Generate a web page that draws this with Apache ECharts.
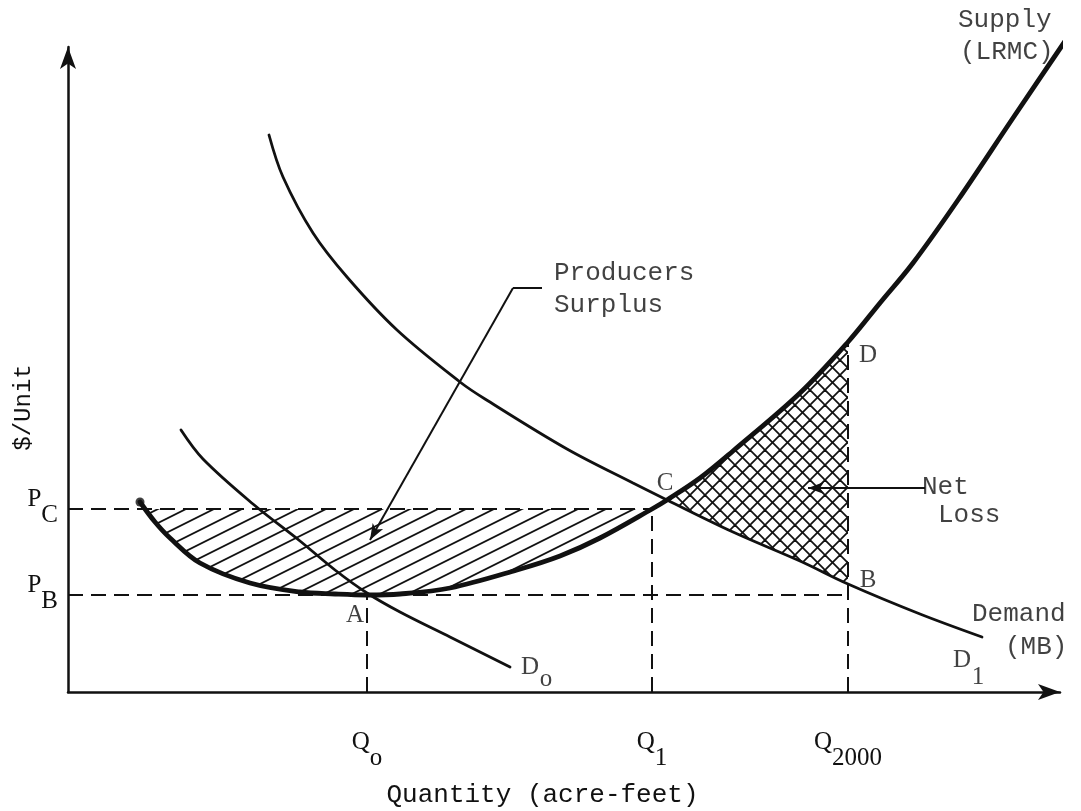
<!DOCTYPE html>
<html>
<head>
<meta charset="utf-8">
<style>
  html, body { margin: 0; padding: 0; background: #fff; }
  #chart { width: 1081px; height: 811px; }
</style>
<script src="https://cdn.jsdelivr.net/npm/echarts@6/dist/echarts.min.js"></script>
</head>
<body>
<div id="chart"></div>
<script>
// curves (x = quantity, y = $/unit, arbitrary units)
const supplyX = [7.2, 8.7, 10.2, 13.2, 18.2, 23.2, 26.7, 29.9, 33.2, 38.2, 44.9, 49.2, 53.2, 58.4, 59.9, 63.2, 66.5, 73.2, 78.0, 81.2, 84.5, 89.0, 94.5, 101.0];
const supplyY = [19.0, 17.0, 15.4, 12.9, 10.9, 10.0, 9.8, 9.7, 9.8, 10.4, 12.2, 13.6, 15.4, 18.3, 19.2, 21.4, 24.1, 29.9, 35.0, 38.9, 42.9, 49.2, 57.4, 67.0];

const d1X = [20.1, 21.5, 24.5, 27.9, 32.9, 39.2, 41.7, 49.9, 56.5, 59.9, 66.5, 73.2, 78.0, 85.2, 91.4];
const d1Y = [55.7, 51.5, 45.9, 41.5, 36.2, 31.0, 29.3, 24.3, 20.9, 19.2, 16.0, 13.1, 10.8, 7.8, 5.5];

const d0X = [11.3, 13.5, 18.5, 23.2, 26.7, 29.9, 33.2, 38.2, 44.2];
const d0Y = [26.2, 23.3, 18.8, 15.1, 12.2, 9.9, 8.0, 5.5, 2.5];

// tick positions and labels
const qTicks = [29.9, 58.4, 78.0];
const qSubs = ['o', '1', '2000'];
const pTicks = [18.3, 9.7];
const pSubs = ['C', 'B'];
const q2000Top = 35.0;   // supply at Q2000 (point D)
const pointC = [59.9, 19.2];

// annotation text
const wordText = ['Supply', '(LRMC)', 'Producers', 'Surplus', 'Net', 'Loss', 'Demand', '(MB)'];
const wordX = [89.0, 89.2, 48.6, 48.6, 85.4, 87.0, 90.4, 93.7];
const wordY = [67.2, 64.0, 41.9, 38.7, 20.5, 17.7, 7.8, 4.5];

const letterText = ['A', 'B', 'C', 'D', 'D', '1', 'D', 'o'];
const letterX = [28.7, 80.0, 59.7, 80.0, 89.4, 91.0, 46.2, 47.8];
const letterY = [7.7, 11.2, 20.9, 33.7, 3.2, 1.5, 2.5, 1.3];

// leader lines
const surplusPointer = [[47.4, 40.4], [44.5, 40.4], [30.2, 15.2]];
const lossPointer = [[85.7, 20.4], [74.0, 20.4]];

const INK = '#111';
const MONO = 'Liberation Mono';
const SERIF = 'Liberation Serif';

function zip(xs, ys) { return xs.map((x, i) => [x, ys[i]]); }

function hatchTile() {
  const c = document.createElement('canvas');
  c.width = 28; c.height = 14;
  const g = c.getContext('2d');
  g.strokeStyle = INK; g.lineWidth = 1.8;
  for (let k = -1; k <= 1; k++) {
    g.beginPath();
    g.moveTo(-2, 14 * (k + 1) + 1);
    g.lineTo(30, 14 * (k + 1) - 15);
    g.stroke();
  }
  return c;
}

function crossTile() {
  const c = document.createElement('canvas');
  c.width = 15; c.height = 15;
  const g = c.getContext('2d');
  g.strokeStyle = INK; g.lineWidth = 1.8;
  for (let k = -1; k <= 1; k++) {
    g.beginPath(); g.moveTo(-1, -1 + 15 * k); g.lineTo(16, 16 + 15 * k); g.stroke();
  }
  for (let k = 0; k <= 2; k++) {
    g.beginPath(); g.moveTo(-1, 15 * k + 1); g.lineTo(16, 15 * k - 16); g.stroke();
  }
  return c;
}

function areaSeries(pts, tile) {
  return {
    type: 'custom', coordinateSystem: 'cartesian2d', silent: true, z: 1, clip: false,
    data: pts,
    renderItem: function (params, api) {
      if (params.dataIndex !== 0) return null;
      return {
        type: 'polygon',
        shape: { points: pts.map(p => api.coord(p)) },
        style: { fill: { image: tile, repeat: 'repeat' }, stroke: null }
      };
    }
  };
}

function curve(pts, width) {
  return {
    type: 'line', data: pts, smooth: 0.35, symbol: 'none', clip: false, silent: true, z: 5,
    lineStyle: { color: INK, width: width, cap: 'round' }
  };
}

function dashed(pts) {
  return {
    type: 'line', data: pts, symbol: 'none', clip: false, silent: true, z: 3,
    lineStyle: { color: INK, width: 2, type: [15, 8] }
  };
}

function nearest(list, v) {
  let best = 0;
  list.forEach((t, i) => { if (Math.abs(t - v) < Math.abs(list[best] - v)) best = i; });
  return best;
}

const supply = zip(supplyX, supplyY);
const d1 = zip(d1X, d1Y);
const d0 = zip(d0X, d0Y);

const surplusArea = supply.filter(p => p[0] <= qTicks[1]).concat([[supplyX[0], pTicks[0]]]);
const lossArea = supply.filter(p => p[0] >= pointC[0] && p[0] <= qTicks[2])
  .concat(d1.filter(p => p[0] >= pointC[0] && p[0] <= qTicks[2]).reverse());

const subRich = {
  m: { fontFamily: SERIF, fontSize: 25, lineHeight: 22, color: INK, verticalAlign: 'top' },
  s: { fontFamily: SERIF, fontSize: 25, lineHeight: 22, color: INK, verticalAlign: 'top', padding: [16, 0, 0, 0] }
};

const chart = echarts.init(document.getElementById('chart'), null, { renderer: 'canvas' });

chart.setOption({
  animation: false,
  backgroundColor: '#fff',
  grid: { left: 68, right: 21, top: 47, bottom: 119, containLabel: false, outerBoundsMode: 'none' },
  xAxis: {
    type: 'value', min: 0, max: 99.2,
    name: 'Quantity (acre-feet)', nameLocation: 'middle', nameGap: 90, nameMoveOverlap: false,
    nameTextStyle: { fontFamily: MONO, fontSize: 26, color: INK, padding: [0, 43, 0, 0] },
    axisLine: { show: true, symbol: ['none', 'arrow'], symbolSize: [12, 22], lineStyle: { color: INK, width: 2.5 } },
    axisTick: { show: false },
    splitLine: { show: false },
    axisLabel: {
      customValues: qTicks, margin: 38,
      formatter: v => '{m|Q}{s|' + qSubs[nearest(qTicks, v)] + '}',
      rich: subRich
    }
  },
  yAxis: {
    type: 'value', min: 0, max: 64.5,
    name: '$/Unit', nameLocation: 'middle', nameGap: 32, nameRotate: 90, nameMoveOverlap: false,
    nameTextStyle: { fontFamily: MONO, fontSize: 24, color: INK, padding: [0, 76, 0, 0] },
    axisLine: { show: true, symbol: ['none', 'arrow'], symbolSize: [12, 22], lineStyle: { color: INK, width: 2.5 } },
    axisTick: { show: false },
    splitLine: { show: false },
    axisLabel: {
      customValues: pTicks, margin: 10, verticalAlign: 'bottom',
      formatter: v => '{m|P}{s|' + pSubs[nearest(pTicks, v)] + '}',
      rich: subRich
    }
  },
  series: [
    areaSeries(surplusArea, hatchTile()),
    areaSeries(lossArea, crossTile()),
    dashed([[0, pTicks[0]], [qTicks[1], pTicks[0]]]),
    dashed([[0, pTicks[1]], [qTicks[2], pTicks[1]]]),
    dashed([[qTicks[0], 0], [qTicks[0], pTicks[1]]]),
    dashed([[qTicks[1], 0], [qTicks[1], pTicks[0]]]),
    dashed([[qTicks[2], 0], [qTicks[2], q2000Top]]),
    curve(d0, 2.8),
    curve(d1, 2.8),
    curve(supply, 4.8),
    {
      type: 'scatter', data: [supply[0]], symbol: 'circle', symbolSize: 9, clip: false, silent: true, z: 6,
      itemStyle: { color: INK }
    },
    {
      type: 'line', data: surplusPointer.slice(0, 2), symbol: 'none', clip: false, silent: true, z: 6,
      lineStyle: { color: INK, width: 2 },
      markLine: {
        silent: true, symbol: ['none', 'arrow'], symbolSize: [9, 16], label: { show: false },
        lineStyle: { color: INK, width: 2, type: 'solid' },
        data: [
          [{ coord: surplusPointer[1] }, { coord: surplusPointer[2] }],
          [{ coord: lossPointer[0] }, { coord: lossPointer[1] }]
        ]
      }
    },
    {
      type: 'scatter', symbolSize: 0, clip: false, silent: true, z: 8,
      data: wordText.map((t, i) => ({ value: [wordX[i], wordY[i]], name: t })),
      itemStyle: { color: 'rgba(0,0,0,0)' },
      label: {
        show: true, position: 'right', distance: 0, formatter: p => p.name,
        fontFamily: MONO, fontSize: 26, color: INK
      }
    },
    {
      type: 'scatter', symbolSize: 0, clip: false, silent: true, z: 8,
      data: letterText.map((t, i) => ({ value: [letterX[i], letterY[i]], name: t })),
      itemStyle: { color: 'rgba(0,0,0,0)' },
      label: {
        show: true, position: 'inside', formatter: p => p.name,
        fontFamily: SERIF, fontSize: 25, color: INK
      }
    }
  ]
});
</script>
</body>
</html>
